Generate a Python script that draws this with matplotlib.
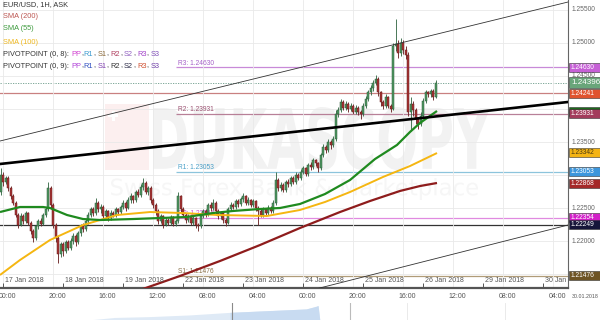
import numpy as np
import matplotlib
matplotlib.use("Agg")
import matplotlib.pyplot as plt
import matplotlib.transforms as mtransforms
from matplotlib.patches import Rectangle, PathPatch
from matplotlib.textpath import TextPath
from matplotlib.font_manager import FontProperties

plt.rcParams["font.family"] = ["Liberation Sans", "DejaVu Sans"]

# ---------------------------------------------------------------------------
# Data: hourly EUR/USD candles, hour 0 = 17 Jan 2018 00:00 (weekend skipped)
# ---------------------------------------------------------------------------
first_open = 1.2275
closes = [
    1.2300,
    # 17 Jan
    1.2290, 1.2295, 1.2280, 1.2268, 1.2258, 1.2240, 1.2225, 1.2238, 1.2230, 1.2242, 1.2228, 1.2215,
    1.2205, 1.2222, 1.2230, 1.2226, 1.2240, 1.2248, 1.2280, 1.2255, 1.2225, 1.2205, 1.2180, 1.2195,
    # 18 Jan
    1.2185, 1.2198, 1.2190, 1.2200, 1.2208, 1.2198, 1.2212, 1.2222, 1.2218, 1.2230, 1.2240, 1.2248,
    1.2242, 1.2258, 1.2248, 1.2252, 1.2238, 1.2245, 1.2235, 1.2243, 1.2240, 1.2248, 1.2244, 1.2252,
    # 19 Jan
    1.2258, 1.2250, 1.2262, 1.2268, 1.2262, 1.2275, 1.2270, 1.2282, 1.2288, 1.2275, 1.2280, 1.2262,
    1.2255, 1.2245, 1.2230, 1.2238, 1.2225, 1.2232, 1.2228, 1.2236, 1.2226, 1.2230, 1.2268, 1.2248,
    # 22 Jan
    1.2240, 1.2232, 1.2238, 1.2228, 1.2235, 1.2225, 1.2222, 1.2238, 1.2245, 1.2240, 1.2255, 1.2250,
    1.2258, 1.2245, 1.2238, 1.2242, 1.2232, 1.2228, 1.2248, 1.2255, 1.2252, 1.2260, 1.2256, 1.2263,
    # 23 Jan
    1.2268, 1.2258, 1.2262, 1.2255, 1.2260, 1.2250, 1.2245, 1.2240, 1.2248, 1.2242, 1.2250, 1.2246,
    1.2258, 1.2292, 1.2280, 1.2285, 1.2278, 1.2290, 1.2286, 1.2295, 1.2290, 1.2300, 1.2296, 1.2305,
    # 24 Jan
    1.2310, 1.2302, 1.2315, 1.2312, 1.2322, 1.2318, 1.2310, 1.2330, 1.2342, 1.2338, 1.2350, 1.2345,
    1.2355, 1.2392, 1.2398, 1.2410, 1.2402, 1.2408, 1.2400, 1.2405, 1.2396, 1.2402, 1.2395, 1.2392,
    # 25 Jan
    1.2405, 1.2415, 1.2425, 1.2432, 1.2440, 1.2445, 1.2425, 1.2410, 1.2405, 1.2418, 1.2405, 1.2400,
    1.2495, 1.2498, 1.2485, 1.2500, 1.2490, 1.2482, 1.2395, 1.2408, 1.2398, 1.2385, 1.2378, 1.2390,
    # 26 Jan
    1.2412, 1.2425, 1.2422, 1.2428, 1.2418, 1.24396,
]
highs = [
    1.2310,
    1.2304, 1.2299, 1.2298, 1.2284, 1.2271, 1.2260, 1.2243, 1.2242, 1.2241, 1.2246, 1.2244, 1.2231,
    1.2218, 1.2225, 1.2234, 1.2235, 1.2243, 1.2252, 1.2290, 1.2284, 1.2258, 1.2228, 1.2208, 1.2198,
    1.2199, 1.2202, 1.2201, 1.2204, 1.2212, 1.2210, 1.2215, 1.2226, 1.2228, 1.2233, 1.2244, 1.2252,
    1.2251, 1.2265, 1.2261, 1.2256, 1.2254, 1.2248, 1.2247, 1.2247, 1.2246, 1.2251, 1.2250, 1.2255,
    1.2262, 1.2261, 1.2266, 1.2272, 1.2270, 1.2278, 1.2279, 1.2286, 1.2296, 1.2291, 1.2284, 1.2283,
    1.2265, 1.2258, 1.2248, 1.2241, 1.2240, 1.2236, 1.2235, 1.2239, 1.2238, 1.2233, 1.2274, 1.2270,
    1.2251, 1.2243, 1.2241, 1.2240, 1.2238, 1.2237, 1.2228, 1.2241, 1.2249, 1.2248, 1.2258, 1.2259,
    1.2263, 1.2260, 1.2248, 1.2245, 1.2244, 1.2235, 1.2251, 1.2259, 1.2258, 1.2264, 1.2263, 1.2267,
    1.2273, 1.2270, 1.2266, 1.2264, 1.2263, 1.2262, 1.2253, 1.2248, 1.2251, 1.2250, 1.2254, 1.2253,
    1.2262, 1.2305, 1.2295, 1.2289, 1.2288, 1.2293, 1.2294, 1.2298, 1.2298, 1.2304, 1.2303, 1.2309,
    1.2314, 1.2312, 1.2318, 1.2320, 1.2326, 1.2325, 1.2320, 1.2334, 1.2347, 1.2346, 1.2354, 1.2353,
    1.2359, 1.2398, 1.2403, 1.2415, 1.2413, 1.2412, 1.2410, 1.2409, 1.2407, 1.2406, 1.2404, 1.2398,
    1.2409, 1.2419, 1.2429, 1.2436, 1.2444, 1.2452, 1.2448, 1.2428, 1.2414, 1.2422, 1.2420, 1.2408,
    1.2500, 1.2537, 1.2505, 1.2508, 1.2504, 1.2495, 1.2486, 1.2418, 1.2412, 1.2402, 1.2388, 1.2395,
    1.2416, 1.2429, 1.2428, 1.2431, 1.2430, 1.2444,
]
lows = [
    1.2270,
    1.2284, 1.2286, 1.2276, 1.2264, 1.2254, 1.2236, 1.2220, 1.2222, 1.2226, 1.2228, 1.2224, 1.2210,
    1.2199, 1.2202, 1.2218, 1.2222, 1.2224, 1.2236, 1.2245, 1.2250, 1.2220, 1.2198, 1.2167, 1.2176,
    1.2178, 1.2182, 1.2186, 1.2187, 1.2196, 1.2192, 1.2195, 1.2208, 1.2214, 1.2215, 1.2226, 1.2237,
    1.2238, 1.2240, 1.2244, 1.2243, 1.2234, 1.2235, 1.2230, 1.2232, 1.2236, 1.2237, 1.2240, 1.2241,
    1.2249, 1.2246, 1.2248, 1.2258, 1.2258, 1.2259, 1.2266, 1.2267, 1.2278, 1.2271, 1.2270, 1.2258,
    1.2250, 1.2240, 1.2226, 1.2227, 1.2220, 1.2222, 1.2224, 1.2225, 1.2222, 1.2223, 1.2228, 1.2244,
    1.2236, 1.2228, 1.2229, 1.2224, 1.2225, 1.2220, 1.2215, 1.2219, 1.2235, 1.2236, 1.2238, 1.2246,
    1.2247, 1.2241, 1.2234, 1.2234, 1.2228, 1.2222, 1.2226, 1.2245, 1.2248, 1.2249, 1.2252, 1.2253,
    1.2259, 1.2254, 1.2255, 1.2251, 1.2252, 1.2246, 1.2224, 1.2236, 1.2237, 1.2238, 1.2239, 1.2242,
    1.2243, 1.2255, 1.2276, 1.2276, 1.2274, 1.2275, 1.2282, 1.2283, 1.2286, 1.2287, 1.2292, 1.2293,
    1.2301, 1.2298, 1.2299, 1.2308, 1.2309, 1.2313, 1.2304, 1.2308, 1.2327, 1.2333, 1.2335, 1.2340,
    1.2342, 1.2352, 1.2388, 1.2395, 1.2398, 1.2399, 1.2396, 1.2397, 1.2392, 1.2393, 1.2391, 1.2385,
    1.2389, 1.2402, 1.2412, 1.2421, 1.2428, 1.2436, 1.2420, 1.2405, 1.2400, 1.2402, 1.2401, 1.2395,
    1.2398, 1.2488, 1.2478, 1.2480, 1.2484, 1.2476, 1.2390, 1.2366, 1.2390, 1.2378, 1.2370, 1.2374,
    1.2387, 1.2409, 1.2418, 1.2418, 1.2414, 1.2416,
]

# moving averages (hour, price)
sma55_h = [-1.2, 6.8, 16, 18.8, 25.6, 32, 38.8, 52, 62.8, 73.6, 84, 92, 102.8, 110.8,
           118.8, 122.8, 128.8, 138.8, 148.8, 157.6, 162.8, 166.8, 173.6]
sma55_p = [1.22439, 1.22515, 1.22515, 1.22500, 1.22394, 1.22333, 1.22318, 1.22333, 1.22348,
           1.22364, 1.22424, 1.22455, 1.22485, 1.22500, 1.22561, 1.22621, 1.22712, 1.22924,
           1.23242, 1.23455, 1.23652, 1.23788, 1.23970]
sma100_h = [-1.2, 6.8, 18.8, 32, 45.6, 58.8, 72, 85.6, 105.6, 118.8, 128.8, 138.8, 152,
            162.8, 173.6]
sma100_p = [1.21485, 1.21712, 1.22015, 1.22242, 1.22394, 1.22439, 1.22424, 1.22394, 1.22379,
            1.22470, 1.22591, 1.22742, 1.22970, 1.23136, 1.23333]
sma200_h = [54.8, 70.8, 86.8, 102.8, 118.8, 134.8, 146.8, 158.8, 166.8, 173.6]
sma200_p = [1.21258, 1.21470, 1.21697, 1.21939, 1.22197, 1.22439, 1.22606, 1.22758,
            1.22833, 1.22879]

# drawn trend lines (hour, price)
trend_h = [-1.2, 226]
trend_p = [1.23167, 1.24106]
chan_up_h = [-1.2, 226]
chan_up_p = [1.23515, 1.25621]
chan_lo_h = [118.8, 226]
chan_lo_p = [1.21212, 1.22242]

# pivot levels
pivot_start = 69.2
pivot_names = ["R3", "R2", "R1", "PP", "S1"]
pivot_levels = [1.24630, 1.23931, 1.23053, 1.22354, 1.21476]
pivot_colors = ["#c88ad8", "#b88098", "#8cc4dc", "#e08ae0", "#b09c78"]
pivot_text = ["#a560c8", "#9a5070", "#4aa0c8", "#d050d0", "#8a7048"]
full_levels = [1.24241, 1.22249]
full_colors = ["#c98080", "#333333"]
last_price = 1.24396

# right-hand price tags: value, text (None = box only, text hidden), box colour, text colour
tags = [
    (1.24630, "1.24630", "#c660d6", "white"),
    (1.24241, "1.24241", "#e0532e", "white"),
    (1.23962, None, "#1c6a1c", "white"),
    (1.23931, "1.23931", "#a33c5c", "white"),
    (1.23342, "1.23342", "#f4b414", "#4a3a10"),
    (1.23053, "1.23053", "#3c96dc", "white"),
    (1.22868, "1.22868", "#a52828", "white"),
    (1.22354, "1.22354", "#d21fc8", "white"),
    (1.22249, "1.22249", "#16163a", "white"),
    (1.21476, "1.21476", "#6e5424", "white"),
]

ytick_vals = [1.215, 1.220, 1.225, 1.230, 1.235, 1.240, 1.245, 1.250, 1.255]
ylabel_vals = [1.220, 1.225, 1.235, 1.245, 1.250, 1.255]
day_hours = [0, 24, 48, 72, 96, 120, 144, 168, 192, 216]
day_labels = ["17 Jan 2018", "18 Jan 2018", "19 Jan 2018", "22 Jan 2018", "23 Jan 2018",
              "24 Jan 2018", "25 Jan 2018", "26 Jan 2018", "29 Jan 2018", "30 Jan 2018"]
grid_hours = [0, 20, 40, 60, 80, 100, 120, 140, 160, 180, 200, 220]
time_labels = ["00:00", "20:00", "16:00", "12:00", "08:00", "04:00",
               "00:00", "20:00", "16:00", "12:00", "08:00", "04:00"]

# navigator strip (percent of width, relative height)
nav_pos = [15.5, 20.2, 26.4, 33.5, 40.5, 47.2, 53.9, 55.6, 56.0, 56.3]
nav_val = [0, 3, 4, 6, 9, 11, 13, 16, 17, 0]

# ---------------------------------------------------------------------------
W, H = 600, 320
fig = plt.figure(figsize=(6, 3.2), dpi=100)
fig.patch.set_facecolor("white")
ax = fig.add_axes([0, 32 / H, 568 / W, 288 / H])
ax.set_facecolor("none")
ax.set_xlim(-1.2, 226)
ax.set_ylim(1.212879, 1.256515)

# watermark
def stretched_text(s, x0, y0, x1, y1, color, weight="bold"):
    fp = FontProperties(family="DejaVu Sans", weight=weight)
    tp = TextPath((0, 0), s, size=10, prop=fp)
    ext = tp.get_extents()
    tr = (mtransforms.Affine2D().translate(-ext.x0, -ext.y0)
          .scale((x1 - x0) / ext.width, (y1 - y0) / ext.height)
          .translate(x0, H - y1))
    fig.add_artist(PathPatch(tp, transform=tr, facecolor=color, edgecolor="none", zorder=-1))

ident = mtransforms.IdentityTransform()
fig.add_artist(Rectangle((105, H - 170), 44, 66, transform=ident, facecolor="#fcefef",
                         edgecolor="none", zorder=-2))
fig.add_artist(Rectangle((108, H - 117), 10, 3, transform=ident, facecolor="white",
                         edgecolor="none", zorder=-1))
fig.add_artist(Rectangle((111.5, H - 120.5), 3, 10, transform=ident, facecolor="white",
                         edgecolor="none", zorder=-1))
stretched_text("DUKASCOPY", 153, 107, 490, 170, "#f2f2f2")
stretched_text("Swiss Forex Bank & Marketplace", 111, 178, 478, 200, "#f6f6f6", weight="normal")

# grid
ax.set_yticks(ytick_vals)
ax.set_xticks(grid_hours)
ax.grid(True, color="#e9e9e9", lw=0.6, zorder=0)
ax.tick_params(length=0, labelleft=False, labelbottom=False)
for side in ("left", "top"):
    ax.spines[side].set_visible(False)
ax.spines["right"].set_color("#666666")
ax.spines["right"].set_linewidth(0.8)
ax.spines["bottom"].set_color("#555555")
ax.spines["bottom"].set_linewidth(1.6)

# level lines
for lvl, c, name, tc in zip(pivot_levels, pivot_colors, pivot_names, pivot_text):
    ax.hlines(lvl, pivot_start, 226, color=c, lw=0.9, zorder=1.5)
    ax.text(pivot_start + 0.6, lvl + 0.0001, f"{name}: {lvl:.5f}", color=tc, fontsize=4.8,
            va="bottom", ha="left", zorder=1.6)
for lvl, c in zip(full_levels, full_colors):
    ax.axhline(lvl, color=c, lw=0.9, zorder=1.5)
ax.axhline(last_price, color="#6a9a88", lw=0.6, ls=(0, (1.5, 1.5)), zorder=1.5)

# candles
c = np.array(closes)
hi = np.array(highs)
lo = np.array(lows)
o = np.r_[first_open, c[:-1]]
hours = np.arange(len(c)) - 1
up = c >= o
ax.vlines(hours, lo, hi, colors=np.where(up, "#3c6e4c", "#6e2a2a"), lw=0.65, zorder=2)
ax.bar(hours[up], (c - o)[up], bottom=o[up], width=0.8, color="#4f9762",
       edgecolor="#2a5a38", lw=0.35, zorder=2.1)
ax.bar(hours[~up], (c - o)[~up], bottom=o[~up], width=0.8, color="#a83434",
       edgecolor="#641c1c", lw=0.35, zorder=2.1)

# moving averages and trend lines
ax.plot(sma200_h, sma200_p, color="#8e1c1c", lw=1.6, zorder=3, solid_capstyle="butt")
ax.plot(sma100_h, sma100_p, color="#f5b611", lw=1.4, zorder=3, solid_capstyle="butt")
ax.plot(sma55_h, sma55_p, color="#1f8a1f", lw=1.6, zorder=3, solid_capstyle="butt")
ax.plot(trend_h, trend_p, color="black", lw=1.9, zorder=3.5)
ax.plot(chan_up_h, chan_up_p, color="#333333", lw=0.6, zorder=3.5)
ax.plot(chan_lo_h, chan_lo_p, color="#333333", lw=0.6, zorder=3.5)

# day labels inside the plot
bl = mtransforms.blended_transform_factory(ax.transData, ax.transAxes)
ax.vlines(day_hours, 0, 0.016, transform=bl, color="#555555", lw=0.7, zorder=4)
for h, lab in zip(day_hours, day_labels):
    ax.text(h + 0.9, 0.026, lab, transform=bl, fontsize=5, color="#555555",
            va="center", ha="left", clip_on=True, zorder=4)

# lower time scale
bf = mtransforms.blended_transform_factory(ax.transData, fig.transFigure)
for h, lab in zip(grid_hours, time_labels):
    fig.text(h + 1.8, 1 - 296 / H, lab, transform=bf, fontsize=5, color="#555555",
             ha="center", va="center")
fig.text(572 / W, 1 - 297 / H, "30.01.2018", fontsize=3.8, color="#555555", va="center")

# right price scale
for v in ylabel_vals:
    y = ax.transData.transform((0, v))[1]
    fig.text(572 / W, y / H, f"{v:.5f}", fontsize=4.8, color="#666666", va="center", zorder=3)

def price_tag(price, text, face, fg, z, size=4.8, height=9):
    y = ax.transData.transform((0, price))[1]
    fig.add_artist(Rectangle((568.5, y - height / 2), 31.5, height, transform=ident,
                             facecolor=face, edgecolor="#333333", lw=0.4, zorder=z))
    if text:
        fig.text(571 / W, y / H, text, color=fg, fontsize=size, va="center", ha="left",
                 zorder=z + 0.5)

for i, (val, txt, face, fg) in enumerate(tags):
    price_tag(val, txt, face, fg, 4 + i)
price_tag(last_price, f"{last_price:.5f}", "#69a57a", "white", 20, size=5.8, height=11)

# legend block
renderer = fig.canvas.get_renderer()
leg_font = FontProperties(family=["Liberation Sans", "DejaVu Sans"], size=5.3)

def text_w(s):
    return renderer.get_text_width_height_descent(s, leg_font, ismath=False)[0]

def rich_line(y_px, parts):
    full = ""
    for s, col in parts:
        lead = len(s) - len(s.lstrip(" "))
        prefix = full + s[:lead]
        x = 3 + text_w(prefix + "I") - text_w("I") if prefix else 3
        fig.text(x / W, 1 - y_px / H, s.lstrip(" "), color=col, fontproperties=leg_font,
                 va="center", ha="left", zorder=25)
        full += s

K = "#333333"
rich_line(5, [("EUR/USD, 1H, ASK", K)])
rich_line(17, [("SMA (200)", "#bd5752")])
rich_line(29, [("SMA (55)", "#3e9b3e")])
rich_line(42, [("SMA (100)", "#efb820")])
rich_line(54, [("PIVOTPOINT (0, 8):", K), (" PP", "#d040d0"), (",", K), (" R1", "#3c9ad0"),
               (",", K), (" S1", "#8a6a3a"), (",", K), (" R2", "#b04060"), (",", K),
               (" S2", "#9060c0"), (",", K), (" R3", "#a040c8"), (",", K), (" S3", "#8050b8")])
rich_line(66, [("PIVOTPOINT (0, 9):", K), (" PP", "#b040d8"), (",", K), (" R1", "#3050c0"),
               (",", K), (" S1", "#8040b0"), (",", K), (" R2", K), (",", K),
               (" S2", "#2c2c48"), (",", K), (" R3", "#d05030"), (",", K), (" S3", "#7040a8")])

# navigator strip
nav = fig.add_axes([0, 0, 568 / W, 17 / H])
nav.set_xlim(0, 100)
nav.set_ylim(0, 20)
nav.axis("off")
nav_x = np.array(nav_pos)
nav_y = np.array(nav_val)
nav.fill_between(nav_x, nav_y, color="#dfeaf6", lw=0)
sel = nav_x >= 40.5
nav.fill_between(nav_x[sel], nav_y[sel], color="#c8dbf1", lw=0)
nav.axvline(40.8, color="#8a8a8a", lw=0.8)
nav.axvline(61.6, color="#bbbbbb", lw=0.8)
nav.axvline(71.7, color="#e6e6e6", lw=0.6)
nav.axvline(88.9, color="#e6e6e6", lw=0.6)

fig.savefig("out.png", dpi=100)
